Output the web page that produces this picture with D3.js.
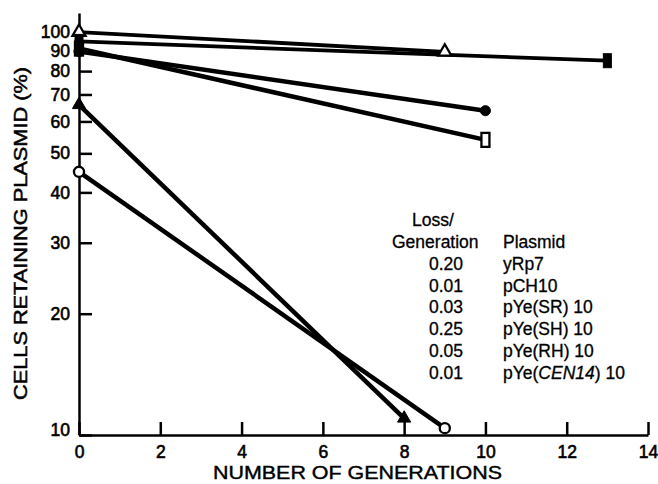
<!DOCTYPE html>
<html>
<head>
<meta charset="utf-8">
<script src="https://cdn.jsdelivr.net/npm/d3@7"></script>
<style>
  body { margin: 0; background: #fff; }
  svg text { font-family: "Liberation Sans", Arial, Helvetica, sans-serif; fill: #000; }
</style>
</head>
<body>
<svg id="chart" width="658" height="484"></svg>
<script>
// Legend table
const lossRates = ["0.20", "0.01", "0.03", "0.25", "0.05", "0.01"];
const plasmidNames = ["yRp7", "pCH10", "pYe(SR) 10", "pYe(SH) 10", "pYe(RH) 10", "pYe(CEN14) 10"];

// Curves (start and end point of each line)
const curveMarkers = ["triangleOpen", "squareFilled", "squareOpen", "circleFilled", "triangleFilled", "circleOpen"];
const curveGenerations = [[0, 9], [0, 13], [0, 10], [0, 10], [0, 8], [0, 9]];
const curveRetained = [[100, 89.3], [94.8, 84.9], [91, 54], [89.5, 63.8], [66, 11], [45, 10.4]];

const xTicks = [0, 2, 4, 6, 8, 10, 12, 14];
const yTicks = [10, 20, 30, 40, 50, 60, 70, 80, 90, 100];

const svg = d3.select('#chart');

const x = d3.scaleLinear().domain([0, 14]).range([79, 648]);
const y = d3.scaleLog().domain([10, 111.5]).range([435, 13]);

// Axes, ticks pointing inward
const yAxis = d3.axisLeft(y)
    .tickValues(yTicks)
    .tickFormat(d3.format('d'))
    .tickSizeInner(-13)
    .tickSizeOuter(0)
    .tickPadding(9);

const gy = svg.append('g')
    .attr('transform', `translate(${x(0)},0)`)
    .call(yAxis);

const xAxis = d3.axisBottom(x)
    .tickValues(xTicks)
    .tickSizeInner(-13)
    .tickSizeOuter(0)
    .tickPadding(11);

const gx = svg.append('g')
    .attr('transform', `translate(0,${y(10)})`)
    .call(xAxis);

[gx, gy].forEach(g => {
    g.select('.domain').attr('stroke', '#000').attr('stroke-width', 2.5);
    g.selectAll('.tick line').attr('stroke', '#000').attr('stroke-width', 2.5);
    g.selectAll('.tick text')
        .style('font-size', '17.5px')
        .style('font-family', '"Liberation Sans", Arial, sans-serif')
        .attr('stroke', '#000')
        .attr('stroke-width', 0.6);
});
// the "10" label sits a bit above the corner
gy.selectAll('.tick text').filter(d => d === 10).attr('dy', '0.05em');

// Axis titles
svg.append('text')
    .attr('x', 213)
    .attr('y', 479)
    .attr('textLength', 289)
    .attr('lengthAdjust', 'spacingAndGlyphs')
    .attr('stroke', '#000')
    .attr('stroke-width', 0.4)
    .style('font-size', '18px')
    .text('NUMBER OF GENERATIONS');

svg.append('text')
    .attr('transform', 'translate(27,233.5) rotate(-90)')
    .attr('text-anchor', 'middle')
    .attr('textLength', 333)
    .attr('lengthAdjust', 'spacingAndGlyphs')
    .attr('stroke', '#000')
    .attr('stroke-width', 0.5)
    .style('font-size', '19px')
    .text('CELLS RETAINING PLASMID (%)');

// Lines
const line = d3.line()
    .x(d => x(d[0]))
    .y(d => y(d[1]));

const curves = curveMarkers.map((m, i) => ({
    marker: m,
    points: curveGenerations[i].map((g, j) => [g, curveRetained[i][j]])
}));

svg.append('g')
    .selectAll('path')
    .data(curves)
    .join('path')
    .attr('d', d => line(d.points))
    .attr('fill', 'none')
    .attr('stroke', '#000')
    .attr('stroke-width', d => (d.marker === 'triangleOpen' || d.marker === 'squareFilled') ? 3.8 : 4.5);

// Markers: open ones first so the filled circle covers the open square at 0
const markerPoints = [];
curves.forEach(c => c.points.forEach(p => markerPoints.push({ marker: c.marker, g: p[0], v: p[1] })));
markerPoints.sort((a, b) => (a.marker.endsWith('Open') ? 0 : 1) - (b.marker.endsWith('Open') ? 0 : 1));

const triangle = d3.symbol(d3.symbolTriangle, 75)();
const circle = d3.symbol(d3.symbolCircle, 80)();

const gm = svg.append('g');
markerPoints.forEach(p => {
    const open = p.marker.endsWith('Open');
    const cx = x(p.g), cy = y(p.v);
    let el;
    if (p.marker.startsWith('square')) {
        el = gm.append('rect')
            .attr('x', cx - 4).attr('y', cy - 7)
            .attr('width', 8).attr('height', 14);
    } else {
        el = gm.append('path')
            .attr('d', p.marker.startsWith('triangle') ? triangle : circle)
            .attr('transform', `translate(${cx},${cy})`);
    }
    el.attr('fill', open ? '#fff' : '#000')
        .attr('stroke', '#000')
        .attr('stroke-width', open ? 2.3 : 1);
});

// Legend table
const legend = svg.append('g')
    .style('font-size', '17.5px')
    .attr('stroke', '#000')
    .attr('stroke-width', 0.3);
legend.append('text').attr('x', 412).attr('y', 226).text('Loss/');
legend.append('text').attr('x', 392).attr('y', 248).text('Generation');
legend.append('text').attr('x', 503).attr('y', 248).text('Plasmid');

const rowY = d3.scaleLinear().domain([0, 1]).range([270, 291.7]);
lossRates.forEach((r, i) => {
    legend.append('text').attr('x', 429).attr('y', rowY(i)).text(r);
    const t = legend.append('text').attr('x', 503).attr('y', rowY(i));
    const name = plasmidNames[i];
    const m = name.match(/^(pYe\()(CEN14)(\).*)$/);
    if (m) {
        t.append('tspan').text(m[1]);
        t.append('tspan').style('font-style', 'italic').text(m[2]);
        t.append('tspan').text(m[3]);
    } else {
        t.text(name);
    }
});
</script>
</body>
</html>
